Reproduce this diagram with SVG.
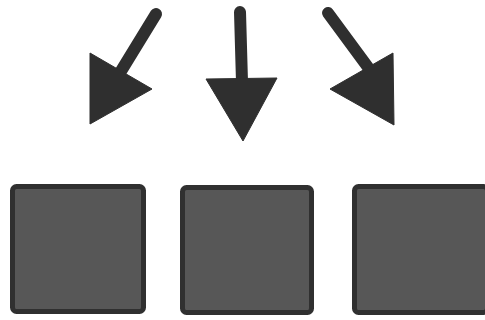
<svg xmlns="http://www.w3.org/2000/svg" width="485" height="320" viewBox="0 0 485 320">
<style>
.box{fill:#575757;stroke:#303030;stroke-width:5}
.shaft{stroke:#2f2f2f;stroke-width:12;stroke-linecap:round;fill:none}
.head{fill:#2f2f2f;stroke:#2f2f2f;stroke-width:1;stroke-linejoin:round}
</style>
<rect width="485" height="320" fill="#ffffff"/>
<g id="connectors">
<line class="shaft" x1="156" y1="14" x2="118" y2="76"/>
<polygon class="head" points="90,53 152,89 90,124"/>
<line class="shaft" x1="240" y1="12" x2="242" y2="82"/>
<polygon class="head" points="206,79 277,78 243,141"/>
<line class="shaft" x1="328" y1="13" x2="370" y2="70"/>
<polygon class="head" points="330,89 393,53 394,125"/>
</g>
<g id="box1"><rect class="box" x="12.5" y="186.5" width="131" height="125" rx="4"/></g>
<g id="box2"><rect class="box" x="182.5" y="187.5" width="129" height="125" rx="4"/></g>
<g id="box3"><rect class="box" x="354.5" y="186.5" width="133" height="126" rx="4"/></g>
</svg>
